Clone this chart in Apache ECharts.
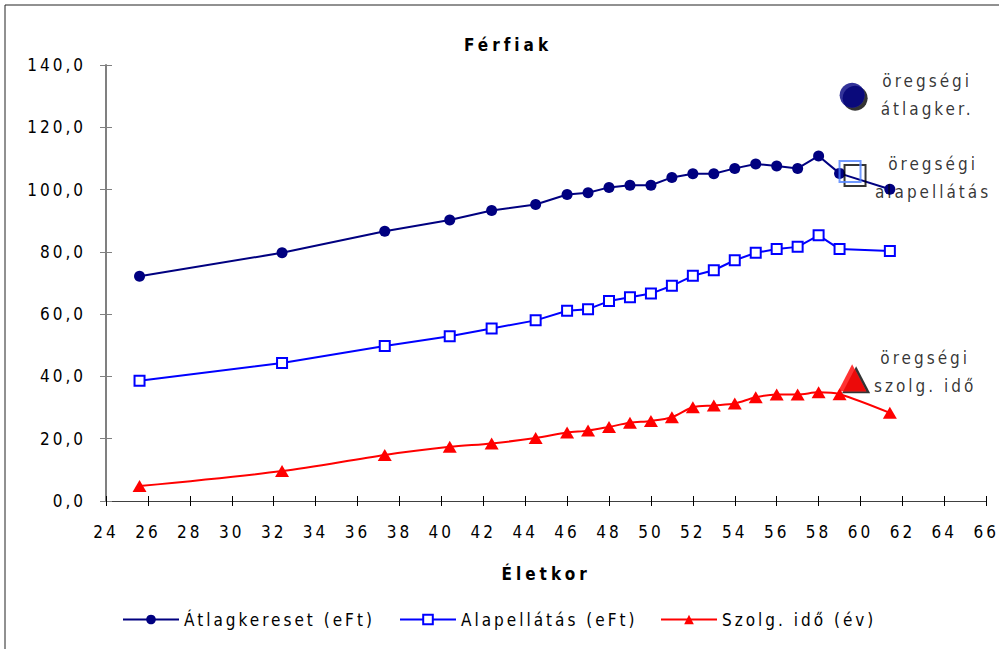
<!DOCTYPE html>
<html>
<head>
<meta charset="utf-8">
<script src="https://cdn.jsdelivr.net/npm/echarts@6/dist/echarts.min.js"></script>
<style>
  html, body { margin: 0; padding: 0; background: #fff; }
  #chart { width: 999px; height: 649px; }
  /* the original labels are drawn letter-spaced */
  #chart text { letter-spacing: 3px; }
  #chart text[style*="bold"] { letter-spacing: 4px; }
</style>
</head>
<body>
<div id="chart"></div>
<script>
// életkor (age group centres)
const ages = [25.6, 32.4, 37.3, 40.4, 42.4, 44.5, 46, 47, 48, 49, 50, 51, 52, 53, 54, 55, 56, 57, 58, 59, 61.4]
// Átlagkereset (eFt)
const atlagkereset = [72.2, 79.7, 86.6, 90.2, 93.3, 95.2, 98.4, 99.0, 100.7, 101.4, 101.4, 103.9, 105.1, 105.1, 106.8, 108.2, 107.6, 106.8, 110.8, 105.2, 100.1]
// Alapellátás (eFt)
const alapellatas = [38.6, 44.3, 49.8, 52.9, 55.4, 58.0, 61.1, 61.6, 64.2, 65.4, 66.6, 69.1, 72.3, 74.1, 77.3, 79.7, 80.9, 81.6, 85.3, 80.9, 80.3]
// Szolg. idő (év)
const szolgIdo = [4.8, 9.6, 14.8, 17.4, 18.5, 20.2, 22.0, 22.6, 23.8, 25.1, 25.7, 26.9, 30.1, 30.7, 31.3, 33.3, 34.2, 34.2, 34.9, 34.3, 28.3]

// öregségi nyugdíjasok átlagai
const oregAges = [59.6, 59.5, 59.6]
const oregValues = [130.3, 105.8, 39.6]
const oregLabels = ['öregségi\nátlagker.', 'öregségi\nalapellátás', 'öregségi\nszolg. idő']

const seriesNames = ['Átlagkereset (eFt)', 'Alapellátás (eFt)', 'Szolg. idő (év)']
const xTicks = { min: 24, max: 66, interval: 2 }
const yTicks = { min: 0, max: 140, interval: 20 }

const font = "'Liberation Sans Narrow', 'DejaVu Sans Condensed', 'Liberation Sans', sans-serif"
const txt = { fontFamily: font, fontSize: 17, color: '#000' }

const pairs = (vals) => ages.map((a, i) => [a, vals[i]])

const chart = echarts.init(document.getElementById('chart'), null, { renderer: 'svg' })

// annotation label placement (per marker)
const oregLabelOffsets = [[75, 0], [83, 6], [73, -6]]

function oregSeries(i, symbol, size, itemStyle) {
  return {
    type: 'scatter',
    name: 'oreg' + i,
    symbol: symbol,
    symbolSize: size,
    itemStyle: itemStyle,
    z: 5,
    data: [[oregAges[i], oregValues[i]]],
    label: {
      show: true,
      position: 'inside',
      offset: oregLabelOffsets[i],
      align: 'center',
      verticalAlign: 'middle',
      lineHeight: 28,
      formatter: oregLabels[i],
      ...txt
    }
  }
}

const legendBase = {
  top: 606,
  itemWidth: 56,
  itemHeight: 12,
  itemGap: 0,
  textStyle: txt
}

const option = {
  animation: false,
  backgroundColor: '#fff',
  title: {
    text: 'Férfiak',
    left: 459,
    top: 31,
    textStyle: { ...txt, fontWeight: 'bold' }
  },
  graphic: [{
    type: 'rect',
    shape: { x: 5, y: 5, width: 1000, height: 700 },
    style: { fill: 'none', stroke: '#222', lineWidth: 1 },
    silent: true
  }],
  legend: [
    { ...legendBase, left: 117, data: [seriesNames[0]] },
    { ...legendBase, left: 394, data: [seriesNames[1]] },
    { ...legendBase, left: 655, data: [seriesNames[2]] }
  ],
  grid: { left: 106, right: 12, top: 65, bottom: 148 },
  xAxis: [
    {
      type: 'value', ...xTicks,
      position: 'bottom',
      axisLine: { lineStyle: { color: '#404040', width: 1 } },
      axisTick: { length: 5, lineStyle: { color: '#000' } },
      axisLabel: { margin: 22, ...txt },
      splitLine: { show: false },
      name: 'Életkor',
      nameLocation: 'middle',
      nameGap: 64,
      nameTextStyle: { ...txt, fontWeight: 'bold' }
    },
    {
      type: 'value', ...xTicks,
      position: 'bottom',
      axisLine: { show: false },
      axisTick: { inside: true, length: 5, lineStyle: { color: '#000' } },
      axisLabel: { show: false },
      splitLine: { show: false }
    }
  ],
  yAxis: [
    {
      type: 'value', ...yTicks,
      axisLine: { show: true, lineStyle: { color: '#808080', width: 2 } },
      axisTick: { show: true, length: 6, lineStyle: { color: '#808080' } },
      axisLabel: {
        margin: 20, ...txt,
        formatter: (v) => v.toFixed(1).replace('.', ',')
      },
      splitLine: { show: false }
    },
    {
      type: 'value', ...yTicks,
      position: 'left',
      axisLine: { show: false },
      axisTick: { show: true, inside: true, length: 6, lineStyle: { color: '#808080' } },
      axisLabel: { show: false },
      splitLine: { show: false }
    }
  ],
  series: [
    {
      name: seriesNames[0],
      type: 'line',
      data: pairs(atlagkereset),
      symbol: 'circle',
      symbolSize: 11,
      lineStyle: { color: '#000080', width: 2 },
      itemStyle: { color: '#000080' }
    },
    {
      name: seriesNames[1],
      type: 'line',
      data: pairs(alapellatas),
      symbol: 'rect',
      symbolSize: 10,
      lineStyle: { color: '#0000ff', width: 2 },
      itemStyle: { color: '#fff', borderColor: '#0000ff', borderWidth: 2 }
    },
    {
      name: seriesNames[2],
      type: 'line',
      data: pairs(szolgIdo),
      smooth: 0.3,
      symbol: 'triangle',
      symbolSize: [14, 12],
      lineStyle: { color: '#ff0000', width: 2 },
      itemStyle: { color: '#ff0000' }
    },
    oregSeries(0, 'circle', 25, {
      color: '#000080', shadowColor: '#000', shadowBlur: 0, shadowOffsetX: 3, shadowOffsetY: 3
    }),
    oregSeries(1, 'rect', 21, {
      color: 'rgba(0,0,0,0)', borderColor: '#4d7fff', borderWidth: 2,
      shadowColor: '#000', shadowBlur: 0, shadowOffsetX: 5, shadowOffsetY: 4
    }),
    oregSeries(2, 'triangle', [28, 27], {
      color: '#ff0000', shadowColor: '#000', shadowBlur: 0, shadowOffsetX: 4, shadowOffsetY: 2
    })
  ]
}

chart.setOption(option)
</script>
</body>
</html>
